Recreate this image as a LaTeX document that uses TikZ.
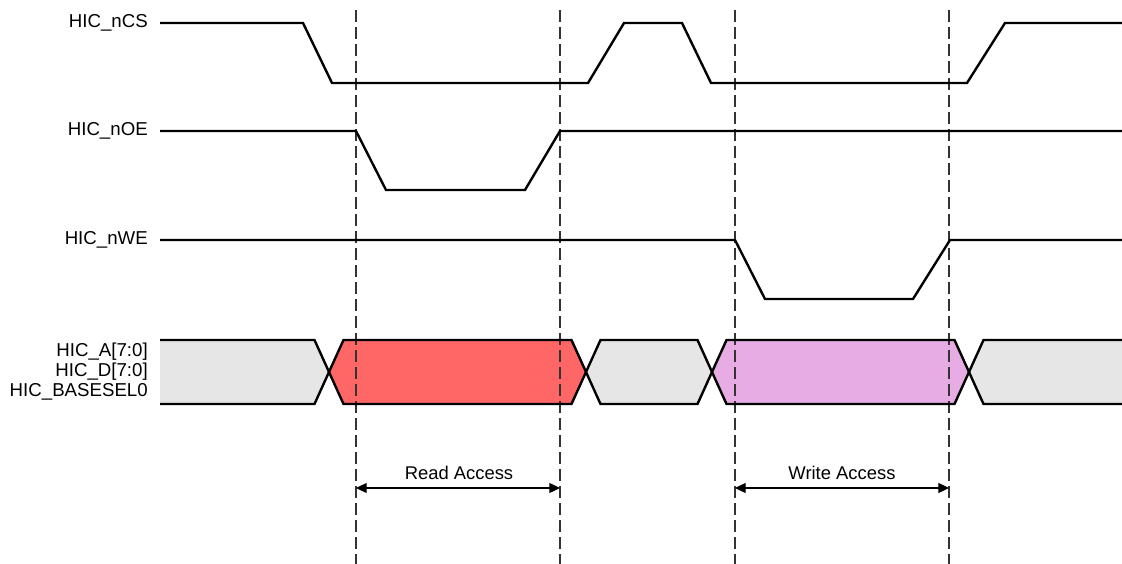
\documentclass[tikz,border=0pt]{standalone}
\usepackage{fontspec}
\setmainfont{Liberation Sans}
\usetikzlibrary{arrows.meta}
\definecolor{busgray}{HTML}{E6E6E6}
\definecolor{readred}{HTML}{FF6666}
\definecolor{writepink}{HTML}{E8ACE4}
\begin{document}
\begin{tikzpicture}[x=0.75pt,y=-0.75pt,
  sig/.style={line width=1.8pt,line join=miter},
  guide/.style={line width=0.9pt,black!80,dash pattern=on 9pt off 3.75pt},
  siglabel/.style={anchor=east,inner sep=0pt,font=\fontsize{14}{15}\selectfont},
  acclabel/.style={inner sep=0pt,font=\fontsize{13.8}{15}\selectfont},
  span/.style={line width=0.9pt,{Triangle[length=8pt,width=7.5pt]}-{Triangle[length=8pt,width=7.5pt]}}]
\useasboundingbox (0,0) rectangle (1122,564);
% labels
\node[siglabel] (lcs) at (148,23) {HIC\_nCS};
\node[siglabel] (loe) at (148,131) {HIC\_nOE};
\node[siglabel] (lwe) at (148,240) {HIC\_nWE};
\node[siglabel,align=right] (lbus) at (148,372) {HIC\_A[7:0]\\HIC\_D[7:0]\\HIC\_BASESEL0};
% bus fills
\fill[busgray] (160,340) -- (314.5,340) -- (329,372) -- (314.5,404) -- (160,404) -- cycle;
\fill[readred] (329,372) -- (343.5,340) -- (571.5,340) -- (586,372) -- (571.5,404) -- (343.5,404) -- cycle;
\fill[busgray] (586,372) -- (600.5,340) -- (697.5,340) -- (712,372) -- (697.5,404) -- (600.5,404) -- cycle;
\fill[writepink] (712,372) -- (726.5,340) -- (954.5,340) -- (969,372) -- (954.5,404) -- (726.5,404) -- cycle;
\fill[busgray] (969,372) -- (983.5,340) -- (1122,340) -- (1122,404) -- (983.5,404) -- cycle;
% guides
\coordinate (g1t) at (356,10); \coordinate (g1b) at (356,564);
\coordinate (g2t) at (560,10); \coordinate (g2b) at (560,564);
\coordinate (g3t) at (735,10); \coordinate (g3b) at (735,564);
\coordinate (g4t) at (949,10); \coordinate (g4b) at (949,564);
\draw[guide] (g1t) -- (g1b);
\draw[guide] (g2t) -- (g2b);
\draw[guide] (g3t) -- (g3b);
\draw[guide] (g4t) -- (g4b);
% bus outlines
\draw[sig] (160,340) -- (314.5,340) -- (343.5,404) -- (571.5,404) -- (600.5,340) -- (697.5,340) -- (726.5,404) -- (954.5,404) -- (983.5,340) -- (1122,340);
\draw[sig] (160,404) -- (314.5,404) -- (343.5,340) -- (571.5,340) -- (600.5,404) -- (697.5,404) -- (726.5,340) -- (954.5,340) -- (983.5,404) -- (1122,404);
% signals
\draw[sig] (160,23) -- (303,23) -- (332,83) -- (588,83) -- (624,23) -- (682,23) -- (711,83) -- (967,83) -- (1005,23) -- (1122,23);
\draw[sig] (160,131) -- (356,131) -- (386,190) -- (525,190) -- (560,131) -- (1122,131);
\draw[sig] (160,240) -- (735,240) -- (765,299) -- (913,299) -- (950,240) -- (1122,240);
% access spans
\coordinate (r1) at (356,488); \coordinate (r2) at (560,488);
\coordinate (w1) at (735,488); \coordinate (w2) at (949,488);
\draw[span] (r1) -- (r2);
\draw[span] (w1) -- (w2);
\node[acclabel] (lread) at (459,473) {Read Access};
\node[acclabel] (lwrite) at (842,473) {Write Access};
\end{tikzpicture}
\end{document}
